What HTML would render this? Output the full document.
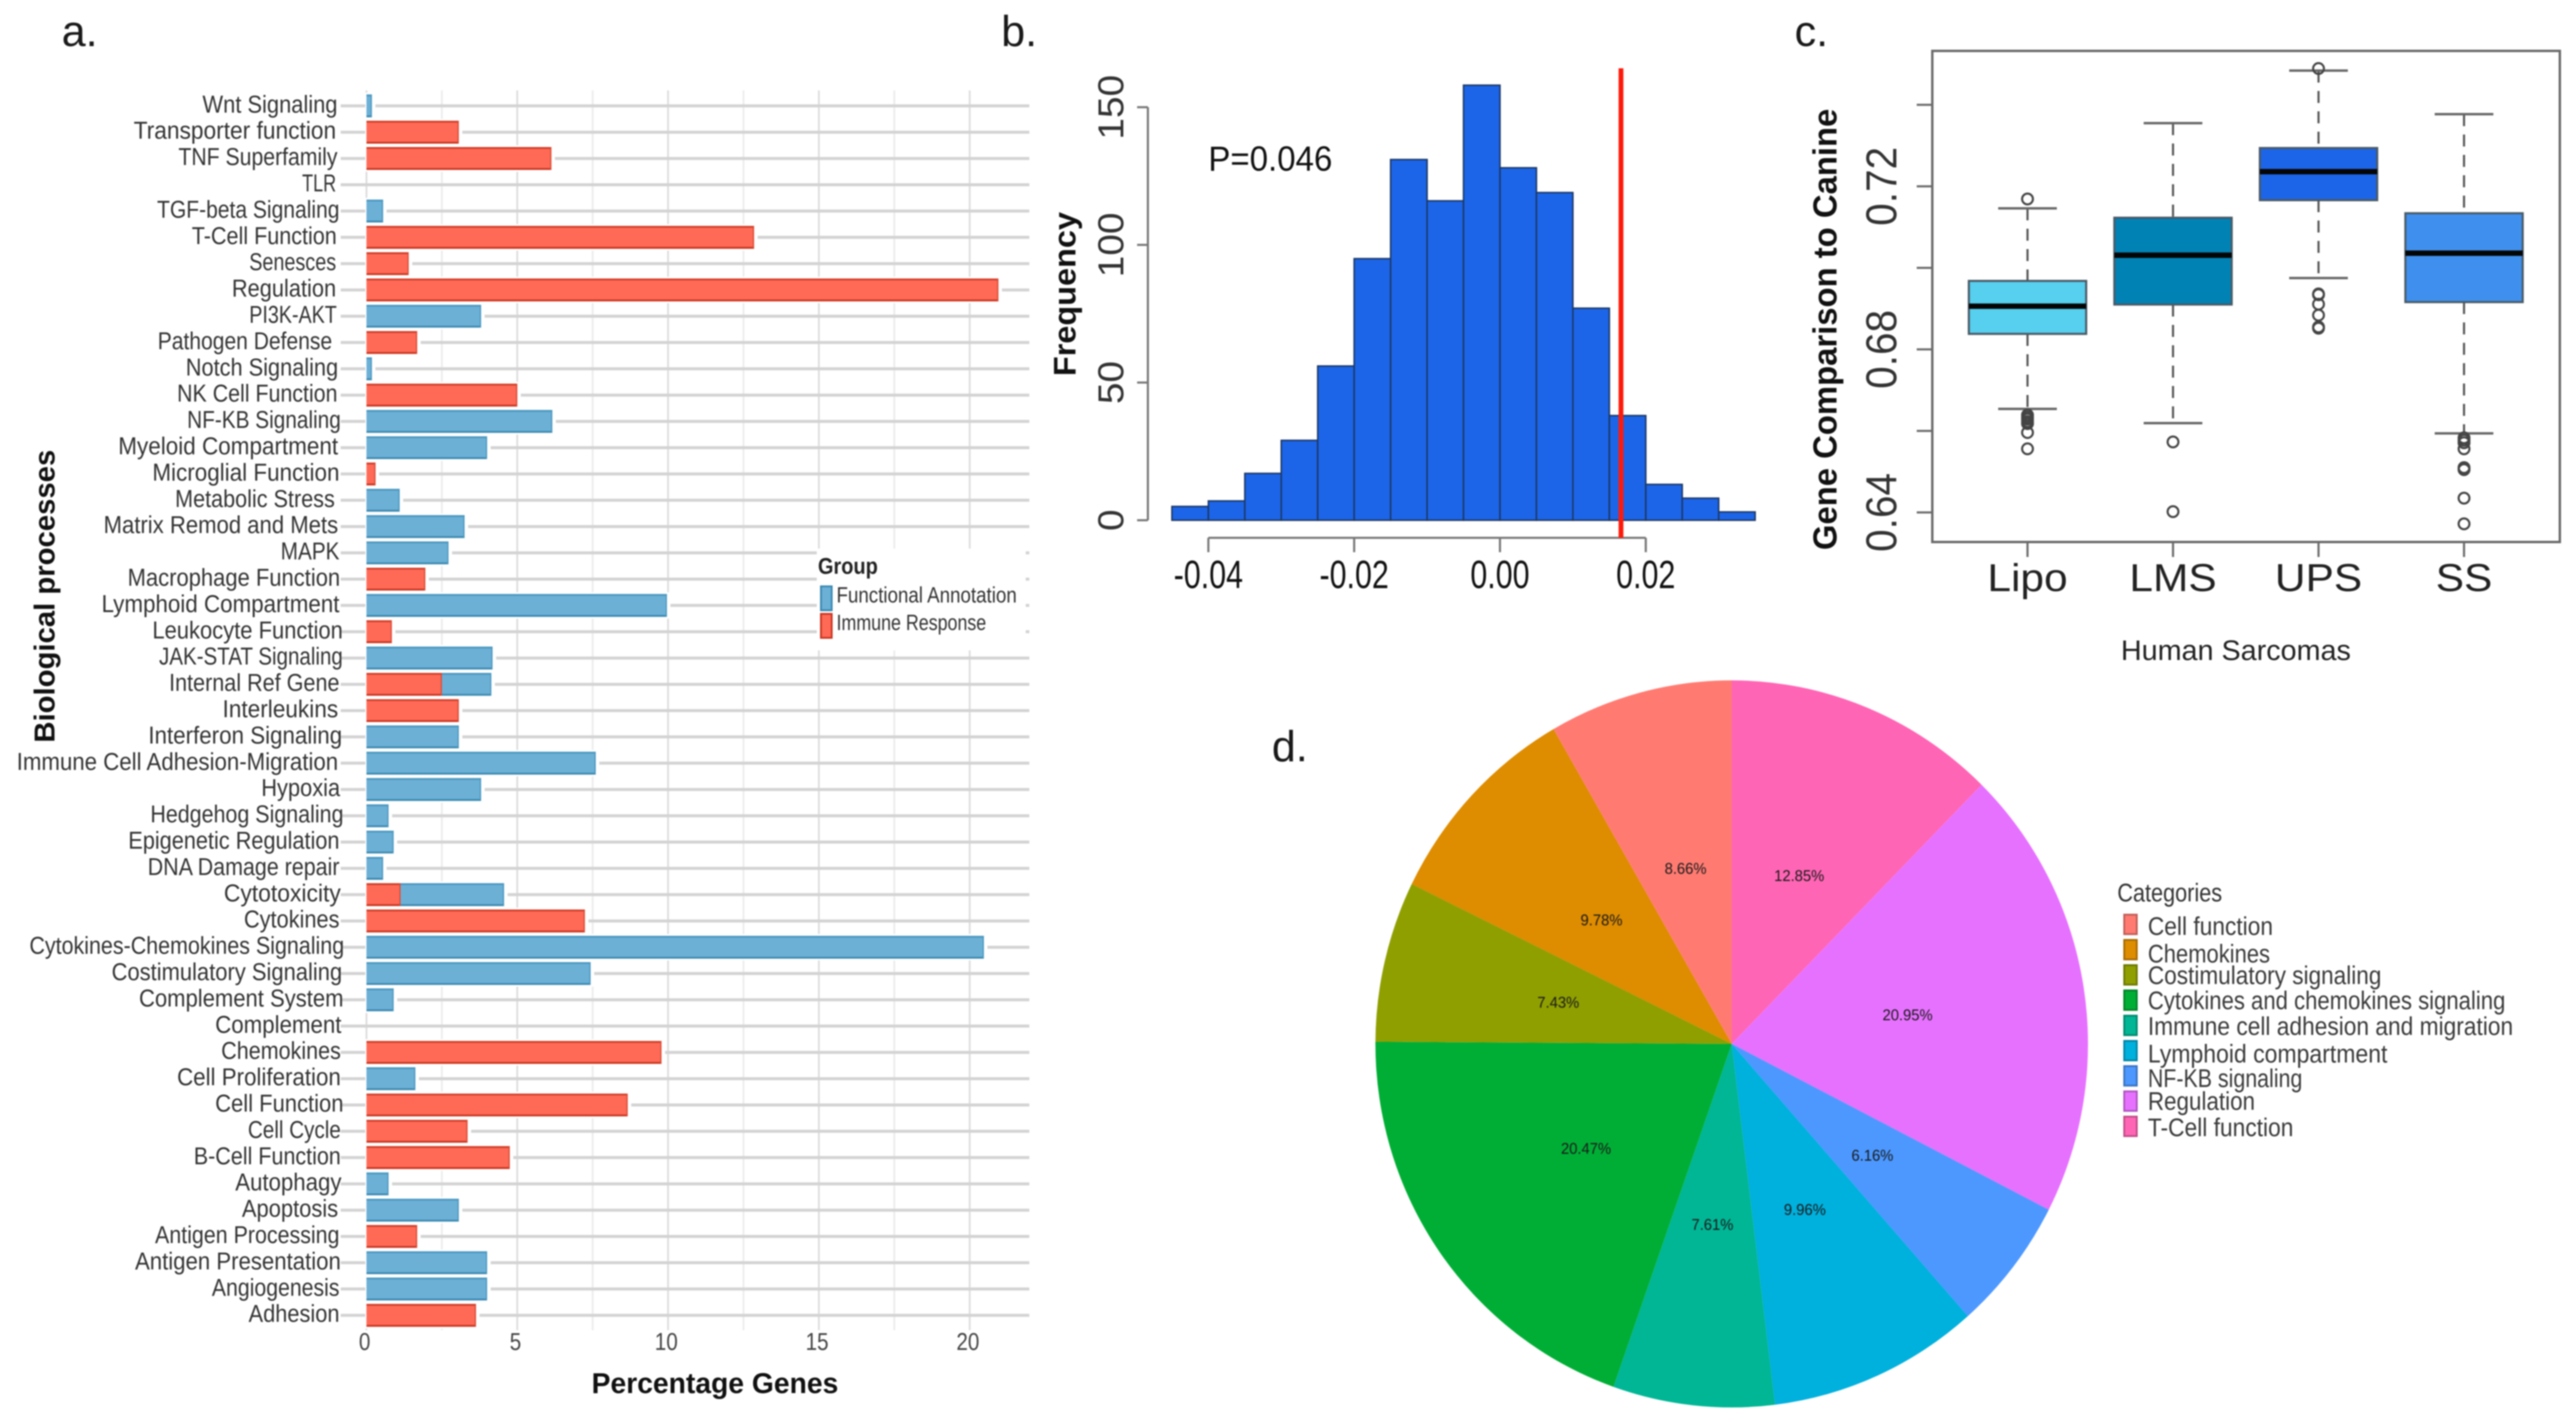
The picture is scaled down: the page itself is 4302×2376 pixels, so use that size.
<!DOCTYPE html>
<html lang="en">
<head>
<meta charset="utf-8">
<title>Biological processes, permutation histogram, sarcoma boxplots and category pie</title>
<style>
html,body{margin:0;padding:0;background:#fff;}
svg{display:block;font-family:"Liberation Sans",sans-serif;filter:blur(1px);}
</style>
</head>
<body>
<svg id="figure" xmlns="http://www.w3.org/2000/svg" width="4302" height="2376" viewBox="0 0 4302 2376">
  <rect x="0" y="0" width="4302" height="2376" fill="#fff"/>

  <text x="103" y="77" font-size="72" fill="#1a1a1a">a.</text>
  <text x="1672" y="77" font-size="72" fill="#1a1a1a">b.</text>
  <text x="2997" y="77" font-size="72" fill="#1a1a1a">c.</text>
  <text x="2124" y="1271" font-size="72" fill="#1a1a1a">d.</text>

  <g id="panelA"></g>
  <g id="panelALegend">
    <rect x="1364" y="916" width="349" height="170" fill="#fff"/>
    <text x="1366" y="958" font-size="38" font-weight="bold" fill="#222" textLength="100" lengthAdjust="spacingAndGlyphs">Group</text>
    <rect x="1371" y="979" width="18" height="40" fill="#6cb0d6" stroke="#3a88b0" stroke-width="3"/>
    <text x="1397" y="1006" font-size="37" fill="#333" textLength="301" lengthAdjust="spacingAndGlyphs">Functional Annotation</text>
    <rect x="1371" y="1025" width="18" height="40" fill="#ff6a57" stroke="#c8341f" stroke-width="3"/>
    <text x="1397" y="1052" font-size="37" fill="#333" textLength="250" lengthAdjust="spacingAndGlyphs">Immune Response</text>
  </g>
  <text x="1194" y="2326" text-anchor="middle" font-size="48" font-weight="bold" fill="#111" textLength="412" lengthAdjust="spacingAndGlyphs">Percentage Genes</text>
  <text transform="translate(91,995.5) rotate(-90)" text-anchor="middle" font-size="48" font-weight="bold" fill="#111" textLength="489" lengthAdjust="spacingAndGlyphs">Biological  processes</text>

  <g id="panelB"></g>
  <text transform="translate(1796,491) rotate(-90)" text-anchor="middle" font-size="52" font-weight="bold" fill="#111" textLength="274" lengthAdjust="spacingAndGlyphs">Frequency</text>
  <text x="2018" y="285" font-size="58" fill="#111" textLength="207" lengthAdjust="spacingAndGlyphs">P=0.046</text>

  <g id="panelC"></g>
  <text transform="translate(3067,550) rotate(-90)" text-anchor="middle" font-size="56" font-weight="bold" fill="#111" textLength="737" lengthAdjust="spacingAndGlyphs">Gene Comparison to Canine</text>
  <text x="3734" y="1102" text-anchor="middle" font-size="47" fill="#222" textLength="384" lengthAdjust="spacingAndGlyphs">Human Sarcomas</text>

  <g id="panelD"></g>
  <g id="panelDLegend">
    <text x="3536" y="1505" font-size="43" fill="#333" textLength="175" lengthAdjust="spacingAndGlyphs">Categories</text>
  </g>
</svg>

<script>
// ---------- Panel a data ----------
const processNames = ["Wnt Signaling","Transporter function","TNF Superfamily","TLR","TGF-beta Signaling","T-Cell Function","Senesces","Regulation","PI3K-AKT","Pathogen Defense","Notch Signaling","NK Cell Function","NF-KB Signaling","Myeloid Compartment","Microglial Function","Metabolic Stress","Matrix Remod and Mets","MAPK","Macrophage Function","Lymphoid Compartment","Leukocyte Function","JAK-STAT Signaling","Internal Ref Gene","Interleukins","Interferon Signaling","Immune Cell Adhesion-Migration","Hypoxia","Hedgehog Signaling","Epigenetic Regulation","DNA Damage repair","Cytotoxicity","Cytokines","Cytokines-Chemokines Signaling","Costimulatory Signaling","Complement System","Complement","Chemokines","Cell Proliferation","Cell Function","Cell Cycle","B-Cell Function","Autophagy","Apoptosis","Antigen Processing","Antigen Presentation","Angiogenesis","Adhesion"];
const immuneValues = [0,3.06,6.13,0,0,12.85,1.4,20.95,0,1.68,0,5.0,0,0,0.3,0,0,0,1.95,0,0.84,0,2.5,3.06,0,0,0,0,0,0,1.13,7.24,0,0,0,0,9.78,0,8.66,3.35,4.75,0,0,1.68,0,0,3.63];
const functionalValues = [0.18,0,0,0,0.55,0,0,0,3.8,0,0.18,0,6.16,4.0,0,1.1,3.25,2.72,0,9.96,0,4.18,1.64,0,3.06,7.6,3.8,0.73,0.9,0.55,3.43,0,20.47,7.43,0.9,0,0,1.62,0,0,0,0.73,3.06,0,4.0,4.0,0];
const percentTicks = [0,5,10,15,20];
const percentMinorTicks = [2.5,7.5,12.5,17.5];

// ---------- Panel b data ----------
const binStarts = [-0.045,-0.04,-0.035,-0.03,-0.025,-0.02,-0.015,-0.01,-0.005,0,0.005,0.01,0.015,0.02,0.025,0.03];
const binFrequencies = [5,7,17,29,56,95,131,116,158,128,119,77,38,13,8,3];
const binWidth = 0.005;
const observedValue = 0.0166;
const freqTicks = [0,50,100,150];
const diffTicks = [-0.04,-0.02,0,0.02];
const diffTickLabels = ["-0.04","-0.02","0.00","0.02"];

// ---------- Panel c data ----------
const sarcomaNames = ["Lipo","LMS","UPS","SS"];
const boxQ1 = [0.6838,0.6910,0.7166,0.6916];
const boxMedian = [0.6906,0.7031,0.7236,0.7036];
const boxQ3 = [0.6968,0.7123,0.7294,0.7134];
const whiskerLow = [0.6654,0.6619,0.6975,0.6594];
const whiskerHigh = [0.7146,0.7355,0.7484,0.7377];
const outliersLipo = [0.7169,0.6639,0.6634,0.6629,0.6623,0.6618,0.6596,0.6556];
const outliersLMS = [0.6573,0.6402];
const outliersUPS = [0.7489,0.6936,0.6934,0.6911,0.6884,0.6855,0.6852];
const outliersSS = [0.6583,0.6577,0.6571,0.6556,0.6510,0.6505,0.6435,0.6372];
const comparisonTicks = [0.64,0.66,0.68,0.70,0.72,0.74];
const comparisonTickLabels = ["0.64","","0.68","","0.72",""];

// ---------- Panel d data ----------
const sliceNames = ["T-Cell function","Regulation","NF-KB signaling","Lymphoid compartment","Immune cell adhesion and migration","Cytokines and chemokines signaling","Costimulatory signaling","Chemokines","Cell function"];
const slicePercents = [12.85,20.95,6.16,9.96,7.61,20.47,7.43,9.78,8.66];
const legendOrder = ["Cell function","Chemokines","Costimulatory signaling","Cytokines and chemokines signaling","Immune cell adhesion and migration","Lymphoid compartment","NF-KB signaling","Regulation","T-Cell function"];

// ---------- helpers ----------
const NS = "http://www.w3.org/2000/svg";
function mk(parent, tag, name, attrs) {
  const el = document.createElementNS(NS, tag);
  
  
  for (const k in attrs) el.setAttribute(k, attrs[k]);
  parent.appendChild(el);
  return el;
}
function txt(parent, name, str, x, y, o) {
  const a = {"font-size": o.size, fill: o.fill || "#222", "text-anchor": o.anchor || "start"};
  if (o.weight) a["font-weight"] = o.weight;
  if (o.len) { a.textLength = o.len; a.lengthAdjust = "spacingAndGlyphs"; }
  a.transform = "translate(" + x + "," + y + ") rotate(" + (o.rot || 0) + ") scale(" + (o.sx || 1) + ",1)";
  const el = mk(parent, "text", name, a);
  el.textContent = str;
  return el;
}
function slug(s) { return s.toLowerCase().replace(/[^a-z0-9]+/g, "-"); }

// ---------- Panel a ----------
(function () {
  const g = document.getElementById("panelA");
  const xA = v => 612 + v * 50.37;
  const yA = i => 176.8 + i * 43.9;
  const gridTop = 151, gridBottom = 2221, gridRight = 1719;
  // label typesetting only: rendered text extents so the sans face fits the original condensed lettering
  const labelFit = [[303,505],[200,503],[267,505],[452,503],[235,508],[287,504],[373,503],[347,503],[373,504],[236,497],[278,506],[265,505],[280,510],[177,506],[228,508],[262,501],[155,506],[420,508],[191,509],[152,508],[228,513],[238,513],[253,508],[333,506],[222,512],[25,506],[391,509],[225,514],[192,508],[221,508],[335,510],[365,508],[44,515],[167,512],[208,514],[322,511],[331,510],[265,510],[322,514],[371,510],[290,510],[352,511],[362,506],[232,508],[202,510],[317,508],[372,508]];
  [0].concat(percentMinorTicks).forEach(t => {
    mk(g, "line", "minor-gridline", {x1: xA(t), x2: xA(t), y1: gridTop, y2: gridBottom, stroke: "#ececec", "stroke-width": 3});
  });
  percentTicks.forEach(t => {
    mk(g, "line", "major-gridline", {x1: xA(t), x2: xA(t), y1: gridTop, y2: gridBottom, stroke: "#dddddd", "stroke-width": 3});
  });
  processNames.forEach((n, i) => {
    const y = yA(i);
    mk(g, "line", "row-gridline-" + slug(n), {x1: 569, x2: gridRight, y1: y, y2: y, stroke: "#d3d3d3", "stroke-width": 5});
  });
  processNames.forEach((n, i) => {
    const y = yA(i), imm = immuneValues[i], fn = functionalValues[i], h = 38;
    const total = imm + fn;
    if (total > 0) {
      mk(g, "rect", "bar-halo-" + slug(n), {x: xA(0) - 2, y: y - h / 2 - 3, width: xA(total) - xA(0) + 8, height: h + 6, fill: "#fff"});
    }
    if (fn > 0) {
      mk(g, "rect", "bar-functional-" + slug(n), {x: xA(imm), y: y - h / 2, width: xA(total) - xA(imm), height: h, fill: "#6cb0d6"});
      mk(g, "line", "bar-functional-top-edge-" + slug(n), {x1: xA(imm), x2: xA(total), y1: y - h / 2 + 1.5, y2: y - h / 2 + 1.5, stroke: "#4a97bf", "stroke-width": 3});
      mk(g, "line", "bar-functional-bottom-edge-" + slug(n), {x1: xA(imm), x2: xA(total), y1: y + h / 2 - 1.5, y2: y + h / 2 - 1.5, stroke: "#3a88b0", "stroke-width": 3});
      mk(g, "line", "bar-functional-end-edge-" + slug(n), {x1: xA(total) - 1, x2: xA(total) - 1, y1: y - h / 2, y2: y + h / 2, stroke: "#4a97bf", "stroke-width": 2});
    }
    if (imm > 0) {
      mk(g, "rect", "bar-immune-" + slug(n), {x: xA(0), y: y - h / 2, width: xA(imm) - xA(0), height: h, fill: "#ff6a57"});
      mk(g, "line", "bar-immune-top-edge-" + slug(n), {x1: xA(0), x2: xA(imm), y1: y - h / 2 + 1.5, y2: y - h / 2 + 1.5, stroke: "#cf3d28", "stroke-width": 3});
      mk(g, "line", "bar-immune-bottom-edge-" + slug(n), {x1: xA(0), x2: xA(imm), y1: y + h / 2 - 1.5, y2: y + h / 2 - 1.5, stroke: "#c8341f", "stroke-width": 3});
      mk(g, "line", "bar-immune-end-edge-" + slug(n), {x1: xA(imm) - 1, x2: xA(imm) - 1, y1: y - h / 2, y2: y + h / 2, stroke: "#d84a34", "stroke-width": 2});
    }
    const fit = labelFit[i];
    txt(g, "category-label-" + slug(n), n, fit[1] * 1.116, y + 11, {size: 41, anchor: "end", len: (fit[1] - fit[0]) * 1.116, fill: "#333"});
  });
  percentTicks.forEach(t => {
    txt(g, "x-tick-label", String(t), xA(t) - 3, 2254, {size: 41, anchor: "middle", sx: 0.84, fill: "#444"});
  });
})();

// ---------- Panel b ----------
(function () {
  const g = document.getElementById("panelB");
  const xB = v => 2505 + v * 12175;
  const yB = v => 868.6 - v * 4.597;
  binStarts.forEach((s, i) => {
    const top = yB(binFrequencies[i]);
    mk(g, "rect", "histogram-bar", {x: xB(s), y: top, width: xB(s + binWidth) - xB(s), height: yB(0) - top, fill: "#1c65e8", stroke: "#1b3765", "stroke-width": 2.5});
  });
  mk(g, "line", "frequency-axis-line", {x1: 1917, x2: 1917, y1: yB(freqTicks[0]), y2: yB(freqTicks[freqTicks.length - 1]), stroke: "#777", "stroke-width": 3.5});
  freqTicks.forEach(t => {
    mk(g, "line", "frequency-tick", {x1: 1899, x2: 1917, y1: yB(t), y2: yB(t), stroke: "#777", "stroke-width": 3.5});
    txt(g, "frequency-tick-label", String(t), 1876, yB(t), {size: 60, rot: -90, anchor: "middle", sx: 1.08, fill: "#333"});
  });
  mk(g, "line", "difference-axis-line", {x1: xB(diffTicks[0]), x2: xB(diffTicks[diffTicks.length - 1]), y1: 898, y2: 898, stroke: "#777", "stroke-width": 3.5});
  diffTicks.forEach((t, i) => {
    mk(g, "line", "difference-tick", {x1: xB(t), x2: xB(t), y1: 898, y2: 922, stroke: "#777", "stroke-width": 3.5});
    txt(g, "difference-tick-label", diffTickLabels[i], xB(t), 982, {size: 66, anchor: "middle", sx: 0.77, fill: "#111"});
  });
  mk(g, "line", "observed-value-line", {x1: xB(observedValue), x2: xB(observedValue), y1: 114, y2: 898, stroke: "#ff1a0a", "stroke-width": 8});
})();

// ---------- Panel c ----------
(function () {
  const g = document.getElementById("panelC");
  const boxFills = ["#57cfee", "#0082b5", "#1c65e8", "#3f90ee"];
  const outlierSets = [outliersLipo, outliersLMS, outliersUPS, outliersSS];
  const xC = i => 3386 + i * 243;
  const yC = v => 855.6 - (v - 0.64) * 6806;
  const halfW = 98, capW = 49;
  mk(g, "rect", "plot-frame", {x: 3227, y: 85, width: 1048, height: 820, fill: "#fff", stroke: "#6a6a6a", "stroke-width": 4});
  comparisonTicks.forEach((t, i) => {
    mk(g, "line", "comparison-tick", {x1: 3201, x2: 3227, y1: yC(t), y2: yC(t), stroke: "#6a6a6a", "stroke-width": 3.5});
    if (comparisonTickLabels[i]) {
      txt(g, "comparison-tick-label", comparisonTickLabels[i], 3167, yC(t), {size: 72, rot: -90, anchor: "middle", sx: 0.94, fill: "#333"});
    }
  });
  sarcomaNames.forEach((n, i) => {
    const x = xC(i), key = slug(n);
    mk(g, "line", "x-tick-" + key, {x1: x, x2: x, y1: 905, y2: 930, stroke: "#6a6a6a", "stroke-width": 3.5});
    txt(g, "x-tick-label-" + key, n, x, 987, {size: 65, anchor: "middle", sx: 1.09, fill: "#222"});
    mk(g, "line", "whisker-upper-" + key, {x1: x, x2: x, y1: yC(whiskerHigh[i]), y2: yC(boxQ3[i]), stroke: "#555", "stroke-width": 3.5, "stroke-dasharray": "20 14"});
    mk(g, "line", "whisker-lower-" + key, {x1: x, x2: x, y1: yC(boxQ1[i]), y2: yC(whiskerLow[i]), stroke: "#555", "stroke-width": 3.5, "stroke-dasharray": "20 14"});
    mk(g, "line", "whisker-cap-upper-" + key, {x1: x - capW, x2: x + capW, y1: yC(whiskerHigh[i]), y2: yC(whiskerHigh[i]), stroke: "#666", "stroke-width": 4});
    mk(g, "line", "whisker-cap-lower-" + key, {x1: x - capW, x2: x + capW, y1: yC(whiskerLow[i]), y2: yC(whiskerLow[i]), stroke: "#666", "stroke-width": 4});
    mk(g, "rect", "box-" + key, {x: x - halfW, y: yC(boxQ3[i]), width: 2 * halfW, height: yC(boxQ1[i]) - yC(boxQ3[i]), fill: boxFills[i], stroke: "#4a5a66", "stroke-width": 3.5});
    mk(g, "line", "median-" + key, {x1: x - halfW, x2: x + halfW, y1: yC(boxMedian[i]), y2: yC(boxMedian[i]), stroke: "#050505", "stroke-width": 9});
    outlierSets[i].forEach(v => {
      mk(g, "circle", "outlier-" + key, {cx: x, cy: yC(v), r: 9, fill: "none", stroke: "#444", "stroke-width": 3.5});
    });
  });
})();

// ---------- Panel d ----------
(function () {
  const g = document.getElementById("panelD");
  const sliceFills = ["#ff65b5", "#e771ff", "#4c98ff", "#00b0dd", "#00b695", "#00ae35", "#8f9f00", "#de8c00", "#ff7b72"];
  const cx = 2892, cy = 1743, rx = 595, ry = 607;
  const total = slicePercents.reduce((a, b) => a + b, 0);
  const pt = (frac, k) => {
    const ang = frac * 2 * Math.PI;
    return [cx + k * rx * Math.sin(ang), cy - k * ry * Math.cos(ang)];
  };
  let acc = 0;
  slicePercents.forEach((p, i) => {
    const f0 = acc / total, f1 = (acc + p) / total;
    const a = pt(f0, 1), b = pt(f1, 1);
    mk(g, "path", "slice-" + slug(sliceNames[i]), {d: "M" + cx + " " + cy + "L" + a[0] + " " + a[1] + "A" + rx + " " + ry + " 0 " + (f1 - f0 > 0.5 ? 1 : 0) + " 1 " + b[0] + " " + b[1] + "Z", fill: sliceFills[i]});
    acc += p;
  });
  acc = 0;
  slicePercents.forEach((p, i) => {
    const c = pt((acc + p / 2) / total, 0.5);
    txt(g, "slice-label-" + slug(sliceNames[i]), p.toFixed(2) + "%", c[0], c[1] + 9, {size: 26, anchor: "middle", sx: 0.95, fill: "#1a1a1a"});
    acc += p;
  });
  const lg = document.getElementById("panelDLegend");
  const swatchY = i => 1543.5 + i * 42.15;
  // label typesetting only: baseline and rendered width of each legend line
  const legendFit = [[1561,209],[1607,204],[1643,390],[1685,597],[1728,610],[1774,400],[1815,258],[1853,179],[1897,243]];
  legendOrder.forEach((n, i) => {
    const fill = sliceFills[sliceNames.indexOf(n)], y = swatchY(i);
    mk(lg, "rect", "legend-swatch-" + slug(n), {x: 3546, y: y - 17.75, width: 24, height: 35.5, fill: fill});
    mk(lg, "rect", "legend-swatch-outline-" + slug(n), {x: 3547.5, y: y - 16.25, width: 21, height: 32.5, fill: "none", stroke: "#000", "stroke-opacity": 0.25, "stroke-width": 3});
    txt(lg, "legend-label-" + slug(n), n, 3587, legendFit[i][0], {size: 43, len: legendFit[i][1], fill: "#3a3a3a"});
  });
})();
</script>
</body>
</html>
